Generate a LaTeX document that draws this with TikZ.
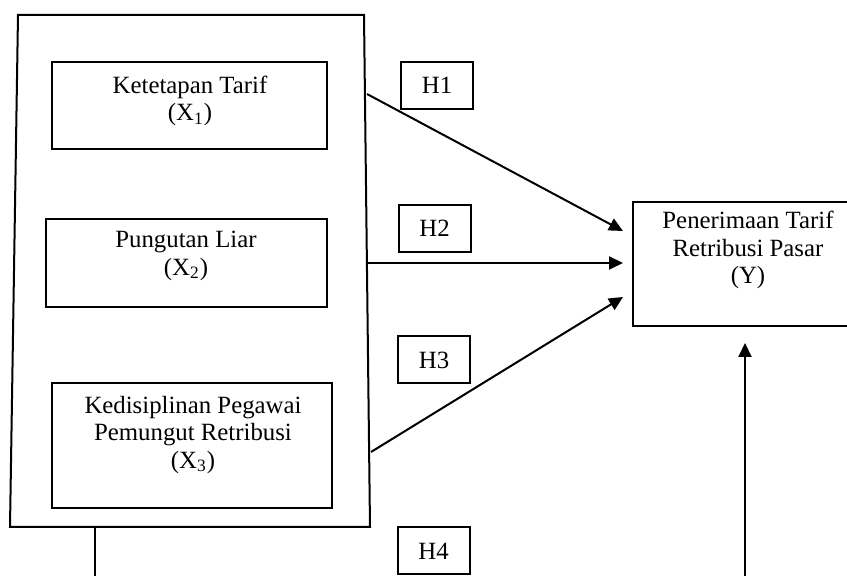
\documentclass[tikz,border=0pt]{standalone}
\usepackage{fontspec}
\setmainfont{Liberation Serif}
\usetikzlibrary{arrows.meta}
\tikzset{
  frame/.style={line width=1pt},
  box/.style={draw, line width=1pt, inner sep=0pt},
  txt/.style={align=center, font=\fontsize{12.4pt}{13.7pt}\selectfont, inner sep=0pt},
  hbox/.style={draw, line width=1pt, inner sep=0pt, minimum width=36pt, minimum height=23.5pt, font=\fontsize{12.4pt}{13.7pt}\selectfont},
  conn/.style={line width=1pt},
  arr/.style={line width=1pt, -{Triangle[length=7pt,width=6.5pt]}}
}
\begin{document}
\begin{tikzpicture}[x=0.5pt,y=-0.5pt]
\useasboundingbox (0,0) rectangle (847,576);
\clip (0,0) rectangle (847,576);
\fill[white] (0,0) rectangle (847,576);
% outer frame
\coordinate (fbl) at (10,527);
\coordinate (ftl) at (18,15);
\coordinate (ftr) at (364,15);
\coordinate (fbr) at (370,527);
\draw[frame] (fbl) -- (ftl) -- (ftr) -- (fbr) -- cycle;
% inner boxes
\node[box, minimum width=137.5pt, minimum height=43.5pt] (x1) at (189.5,105.5) {};
\node[txt] (x1t) at (190,101) {Ketetapan Tarif\\(X\textsubscript{1})};
\node[box, minimum width=140.5pt, minimum height=44pt] (x2) at (186.5,263) {};
\node[txt] (x2t) at (186,256) {Pungutan Liar\\(X\textsubscript{2})};
\node[box, minimum width=140pt, minimum height=62.5pt] (x3) at (192,445.5) {};
\node[txt] (x3t) at (193,435) {Kedisiplinan Pegawai\\Pemungut Retribusi\\(X\textsubscript{3})};
% Y box
\node[box, minimum width=115pt, minimum height=62pt] (y) at (748,264) {};
\node[txt] (yt) at (748,250) {Penerimaan Tarif\\Retribusi Pasar\\(Y)};
% H boxes
\node[hbox] (h1) at (437,85.5) {H1};
\node[hbox] (h2) at (434.5,228.5) {H2};
\node[hbox] (h3) at (434,360) {H3};
\node[hbox] (h4) at (433.5,551) {H4};
% connectors
\coordinate (s1) at (367,94);
\coordinate (s2) at (368,263);
\coordinate (s3) at (371,452);
\coordinate (e1) at (623,231);
\coordinate (e2) at (623,263);
\coordinate (e3) at (623,297);
\draw[arr] (s1) -- (e1);
\draw[arr] (s2) -- (e2);
\draw[arr] (s3) -- (e3);
\coordinate (d1) at (95,527);
\coordinate (d2) at (95,590);
\draw[conn] (d1) -- (d2);
\coordinate (u1) at (745,590);
\coordinate (u2) at (745,343);
\draw[arr] (u1) -- (u2);
\end{tikzpicture}
\end{document}
